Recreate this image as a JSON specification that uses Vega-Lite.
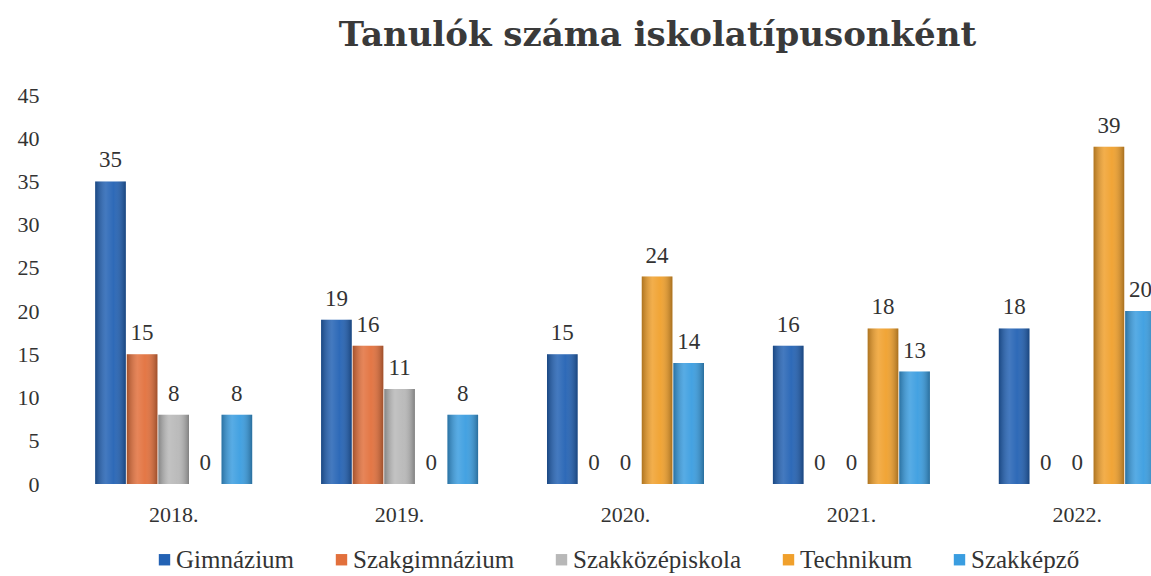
{
  "$schema": "https://vega.github.io/schema/vega-lite/v6.json",
  "width": 1101,
  "height": 389,
  "autosize": {"type": "none"},
  "padding": {"left": 50, "top": 95, "right": 0, "bottom": 92},
  "background": "white",
  "title": {"text": "Tanulók száma iskolatípusonként", "font": "DejaVu Serif", "fontSize": 34, "fontWeight": "bold", "color": "#3a3a3a", "anchor": "middle", "dx": 57, "offset": 31},
  "config": {
    "font": "Liberation Serif",
    "view": {"stroke": null},
    "axis": {"grid": false, "domain": false, "ticks": false},
    "legend": {"labelFont": "Liberation Serif", "labelFontSize": 25, "labelColor": "#333333", "labelLimit": 400}
  },
  "data": {"values": [
    {"year": "2018.", "type": "Gimnázium", "value": 35},
    {"year": "2018.", "type": "Szakgimnázium", "value": 15},
    {"year": "2018.", "type": "Szakközépiskola", "value": 8},
    {"year": "2018.", "type": "Technikum", "value": 0},
    {"year": "2018.", "type": "Szakképző", "value": 8},
    {"year": "2019.", "type": "Gimnázium", "value": 19},
    {"year": "2019.", "type": "Szakgimnázium", "value": 16},
    {"year": "2019.", "type": "Szakközépiskola", "value": 11},
    {"year": "2019.", "type": "Technikum", "value": 0},
    {"year": "2019.", "type": "Szakképző", "value": 8},
    {"year": "2020.", "type": "Gimnázium", "value": 15},
    {"year": "2020.", "type": "Szakgimnázium", "value": 0},
    {"year": "2020.", "type": "Szakközépiskola", "value": 0},
    {"year": "2020.", "type": "Technikum", "value": 24},
    {"year": "2020.", "type": "Szakképző", "value": 14},
    {"year": "2021.", "type": "Gimnázium", "value": 16},
    {"year": "2021.", "type": "Szakgimnázium", "value": 0},
    {"year": "2021.", "type": "Szakközépiskola", "value": 0},
    {"year": "2021.", "type": "Technikum", "value": 18},
    {"year": "2021.", "type": "Szakképző", "value": 13},
    {"year": "2022.", "type": "Gimnázium", "value": 18},
    {"year": "2022.", "type": "Szakgimnázium", "value": 0},
    {"year": "2022.", "type": "Szakközépiskola", "value": 0},
    {"year": "2022.", "type": "Technikum", "value": 39},
    {"year": "2022.", "type": "Szakképző", "value": 20}
  ]},
  "encoding": {
    "x": {"field": "year", "type": "nominal", "sort": null,
      "scale": {"range": [0, 1151], "paddingInner": 0.305, "paddingOuter": 0.2},
      "axis": {"title": null, "labelAngle": 0, "labelFont": "Liberation Serif", "labelFontSize": 22, "labelColor": "#333333", "labelPadding": 20}},
    "xOffset": {"field": "type", "type": "nominal",
      "scale": {"domain": ["Gimnázium", "Szakgimnázium", "Szakközépiskola", "Technikum", "Szakképző"], "paddingInner": 0.03}},
    "y": {"field": "value", "type": "quantitative", "scale": {"domain": [0, 45]},
      "axis": {"title": null, "values": [0, 5, 10, 15, 20, 25, 30, 35, 40, 45], "labelFont": "Liberation Serif", "labelFontSize": 22, "labelColor": "#333333", "labelPadding": 11}}
  },
  "layer": [
    {
      "mark": {"type": "bar", "clip": true},
      "encoding": {
        "color": {"field": "type", "type": "nominal",
          "scale": {"domain": ["Gimnázium", "Szakgimnázium", "Szakközépiskola", "Technikum", "Szakképző"],
                    "range": ["#2362b4", "#e2703c", "#b8b8b8", "#f0a02c", "#3a9de0"]},
          "legend": {"orient": "none", "legendX": 102, "legendY": 452, "direction": "horizontal", "title": null,
                     "symbolType": "square", "symbolSize": 130, "labelFont": "Liberation Serif", "labelFontSize": 25,
                     "labelColor": "#333333", "labelLimit": 400, "columnPadding": 34, "labelOffset": -1}}
      }
    },
    {
      "mark": {"type": "bar", "clip": true, "fill": {"gradient": "linear", "x1": 0, "y1": 0, "x2": 1, "y2": 0,
        "stops": [
          {"offset": 0, "color": "rgba(0,0,0,0.28)"},
          {"offset": 0.35, "color": "rgba(255,255,255,0.15)"},
          {"offset": 0.6, "color": "rgba(255,255,255,0.05)"},
          {"offset": 1, "color": "rgba(0,0,0,0.3)"}
        ]}}
    },
    {
      "mark": {"type": "text", "baseline": "alphabetic", "dy": -14, "font": "Liberation Serif", "fontSize": 23, "color": "#333333"},
      "encoding": {"text": {"field": "value", "type": "quantitative"}}
    }
  ]
}
